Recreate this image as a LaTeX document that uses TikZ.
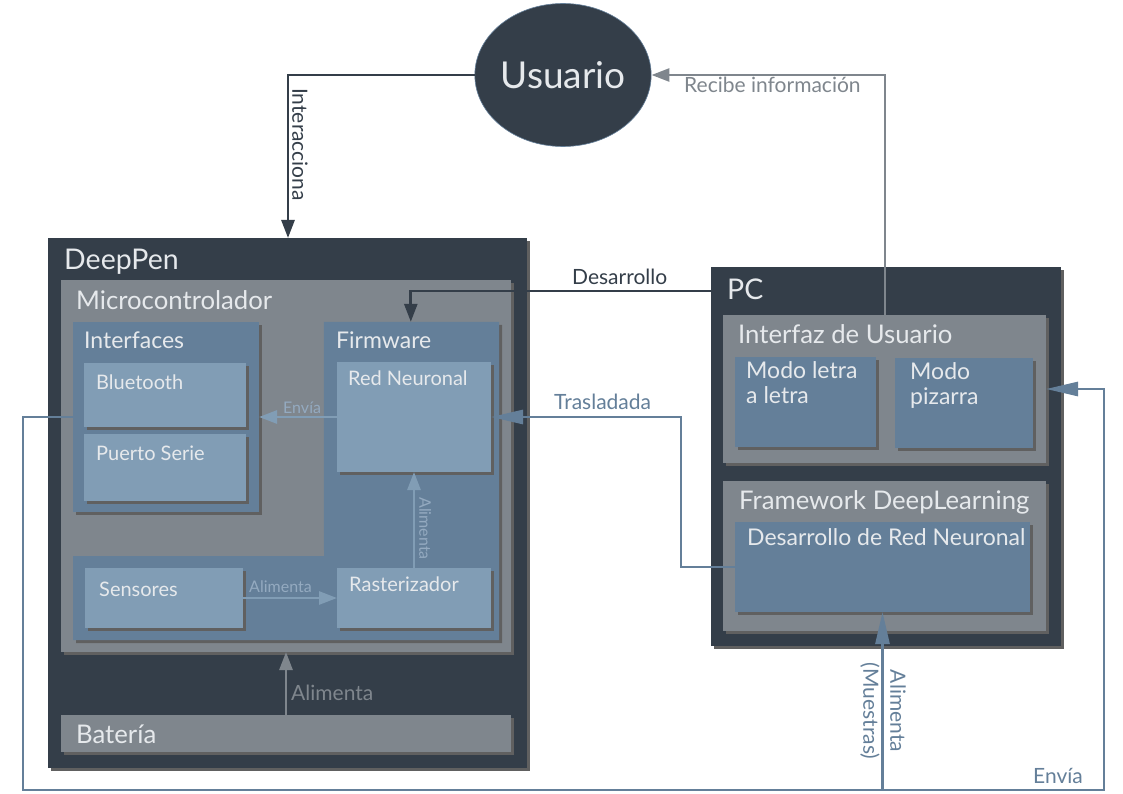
\documentclass[tikz,border=0pt]{standalone}
\usepackage{fontspec}
\setmainfont{Lato}
\usetikzlibrary{arrows.meta,fit,shadows,shapes.geometric}

\definecolor{slate}{HTML}{343E49}
\definecolor{stone}{HTML}{7F868D}
\definecolor{steel}{HTML}{647F99}
\definecolor{sky}{HTML}{819DB5}
\definecolor{umbra}{HTML}{606060}
\definecolor{paper}{HTML}{E6E9EC}
\definecolor{faint}{HTML}{94AAC0}

\tikzset{panel/.style = {fit={#1}, inner sep=0pt, outer sep=0pt,
  drop shadow={shadow xshift=3pt, shadow yshift=-3pt, fill=umbra, opacity=1}}}
\tikzset{ttl/.style = {anchor=base west, inner sep=0pt, text=paper,
  font=\fontsize{#1}{#1}\selectfont}}
\tikzset{tag/.style = {anchor=base west, inner sep=0pt,
  font=\fontsize{#1}{#1}\selectfont}}
\tikzset{wire/.style = {line width=2.7pt, -{Triangle[length=18pt,width=13pt]}}}
\tikzset{longwire/.style = {line width=2.7pt, -{Triangle[length=32pt,width=14pt]}}}

\begin{document}
\begin{tikzpicture}[x=1pt, y=-1pt]
\useasboundingbox[fill=white] (0,0) rectangle (1123,794);

% the user
\node[ellipse, fill=slate, draw=steel, line width=0.6pt, inner sep=0pt,
  minimum width=170pt, minimum height=143pt, text=paper,
  font=\fontsize{37}{37}\selectfont] (usuario) at (563,75) {Usuario};

% DeepPen
\node[panel={(48,238) (527,768)}, fill=slate] (deeppen) {};
\node[ttl=28.5] (deeppenT) at (64,269) {DeepPen};
\node[panel={(61,280) (511,652)}, fill=stone] (micro) {};
\node[ttl=25.7] (microT) at (76,309) {Microcontrolador};
\node[panel={(73,322) (259,512)}, fill=steel] (interfaces) {};
\node[ttl=23] (interfacesT) at (84,348) {Interfaces};
\node[panel={(84,363) (246,427)}, fill=sky] (bluetooth) {};
\node[ttl=20] (bluetoothT) at (96,389) {Bluetooth};
\node[panel={(84,434) (246,501)}, fill=sky] (puerto) {};
\node[ttl=20] (puertoT) at (96,460) {Puerto Serie};
\node[fit={(324,322) (499,640)}, inner sep=0pt] (firmware) {};
\path[fill=steel, drop shadow={shadow xshift=3pt, shadow yshift=-3pt, fill=umbra, opacity=1}]
  (firmware.north west) -- (firmware.north east) -- (firmware.south east)
  -- (73,640) -- (73,556) -- (324,556) -- cycle;
\node[ttl=23] (firmwareT) at (336,348) {Firmware};
\node[panel={(337,362) (491,472)}, fill=sky] (redneuronal) {};
\node[ttl=20] (redneuronalT) at (348,385) {Red Neuronal};
\node[panel={(85,568) (243,628)}, fill=sky] (sensores) {};
\node[ttl=20] (sensoresT) at (99,596) {Sensores};
\node[panel={(337,568) (491,628)}, fill=sky] (rasterizador) {};
\node[ttl=20] (rasterizadorT) at (349,591) {Rasterizador};
\node[panel={(61,715) (511,752)}, fill=stone] (bateria) {};
\node[ttl=25.7] (bateriaT) at (76,743) {Batería};

% PC
\node[panel={(711,267) (1061,646)}, fill=slate] (pc) {};
\node[ttl=28.5] (pcT) at (727,299) {PC};
\node[panel={(723,315) (1046,463)}, fill=stone] (interfaz) {};
\node[ttl=25.7] (interfazT) at (738,343) {Interfaz de Usuario};
\node[panel={(735,357) (876,447)}, fill=steel] (letra) {};
\node[ttl=23, align=left, font=\fontsize{23}{24.7}\selectfont] (letraT) at (746,403) {Modo letra\\a letra};
\node[panel={(895,358) (1033,448)}, fill=steel] (pizarra) {};
\node[ttl=23, align=left, font=\fontsize{23}{24.7}\selectfont] (pizarraT) at (910,404) {Modo\\pizarra};
\node[panel={(723,481) (1046,631)}, fill=stone] (framework) {};
\node[ttl=25.7] (frameworkT) at (739,509) {Framework DeepLearning};
\node[panel={(735,522) (1030,612)}, fill=steel] (desarrollo) {};
\node[ttl=23] (desarrolloT) at (747,545) {Desarrollo de Red Neuronal};

% loop corners
\coordinate (sw) at (23,790);
\coordinate (se) at (1104,790);

% connectors
\draw[wire, slate] (usuario.west) -| ([xshift=240pt]deeppen.north west);
\node[tag=21, rotate=-90, anchor=south west, text=slate] (interaccionaL) at (292,88) {Interacciona};
\draw[wire, stone] ([xshift=162pt]interfaz.north west) |- (usuario.east);
\node[tag=21, text=stone] (recibeL) at (684,93) {Recibe información};
\draw[wire, slate] ([yshift=-24pt]pc.north west) -| ([xshift=87pt]firmware.north west);
\node[tag=21, text=slate] (desarrolloL) at (572,284) {Desarrollo};
\draw[longwire, steel] (desarrollo.west) -- ++(-54,0) |- (redneuronal.east);
\node[tag=21, text=steel] (trasladadaL) at (554,409) {Trasladada};
\draw[wire, sky] (redneuronal.west) -- (interfaces.east);
\node[tag=16, text=faint] (enviaL) at (283,413) {Envía};
\draw[wire, sky] (sensores.east) -- (rasterizador.west);
\node[tag=16, text=faint] (alimentaL) at (249,592) {Alimenta};
\draw[wire, sky] (rasterizador.north) -- (redneuronal.south);
\node[tag=16, rotate=-90, anchor=south west, text=faint] (alimentaR) at (419,497) {Alimenta};
\draw[wire, stone] ([xshift=225pt]bateria.north west) -- ([xshift=225pt]micro.south west);
\node[tag=21, text=stone] (alimentaB) at (291,700) {Alimenta};
\draw[longwire, steel] (interfaces.west) -| (sw) -- (se) -- (se |- interfaz.east) -- (interfaz.east);
\node[tag=21, text=steel] (enviaO) at (1033,783) {Envía};
\draw[longwire, steel] (desarrollo.south |- sw) -- (desarrollo.south);
\node[rotate=-90, inner sep=0pt, align=center, text=steel,
  font=\fontsize{21}{27}\selectfont] (muestrasL) at (883,711) {Alimenta\\(Muestras)};
\end{tikzpicture}
\end{document}
